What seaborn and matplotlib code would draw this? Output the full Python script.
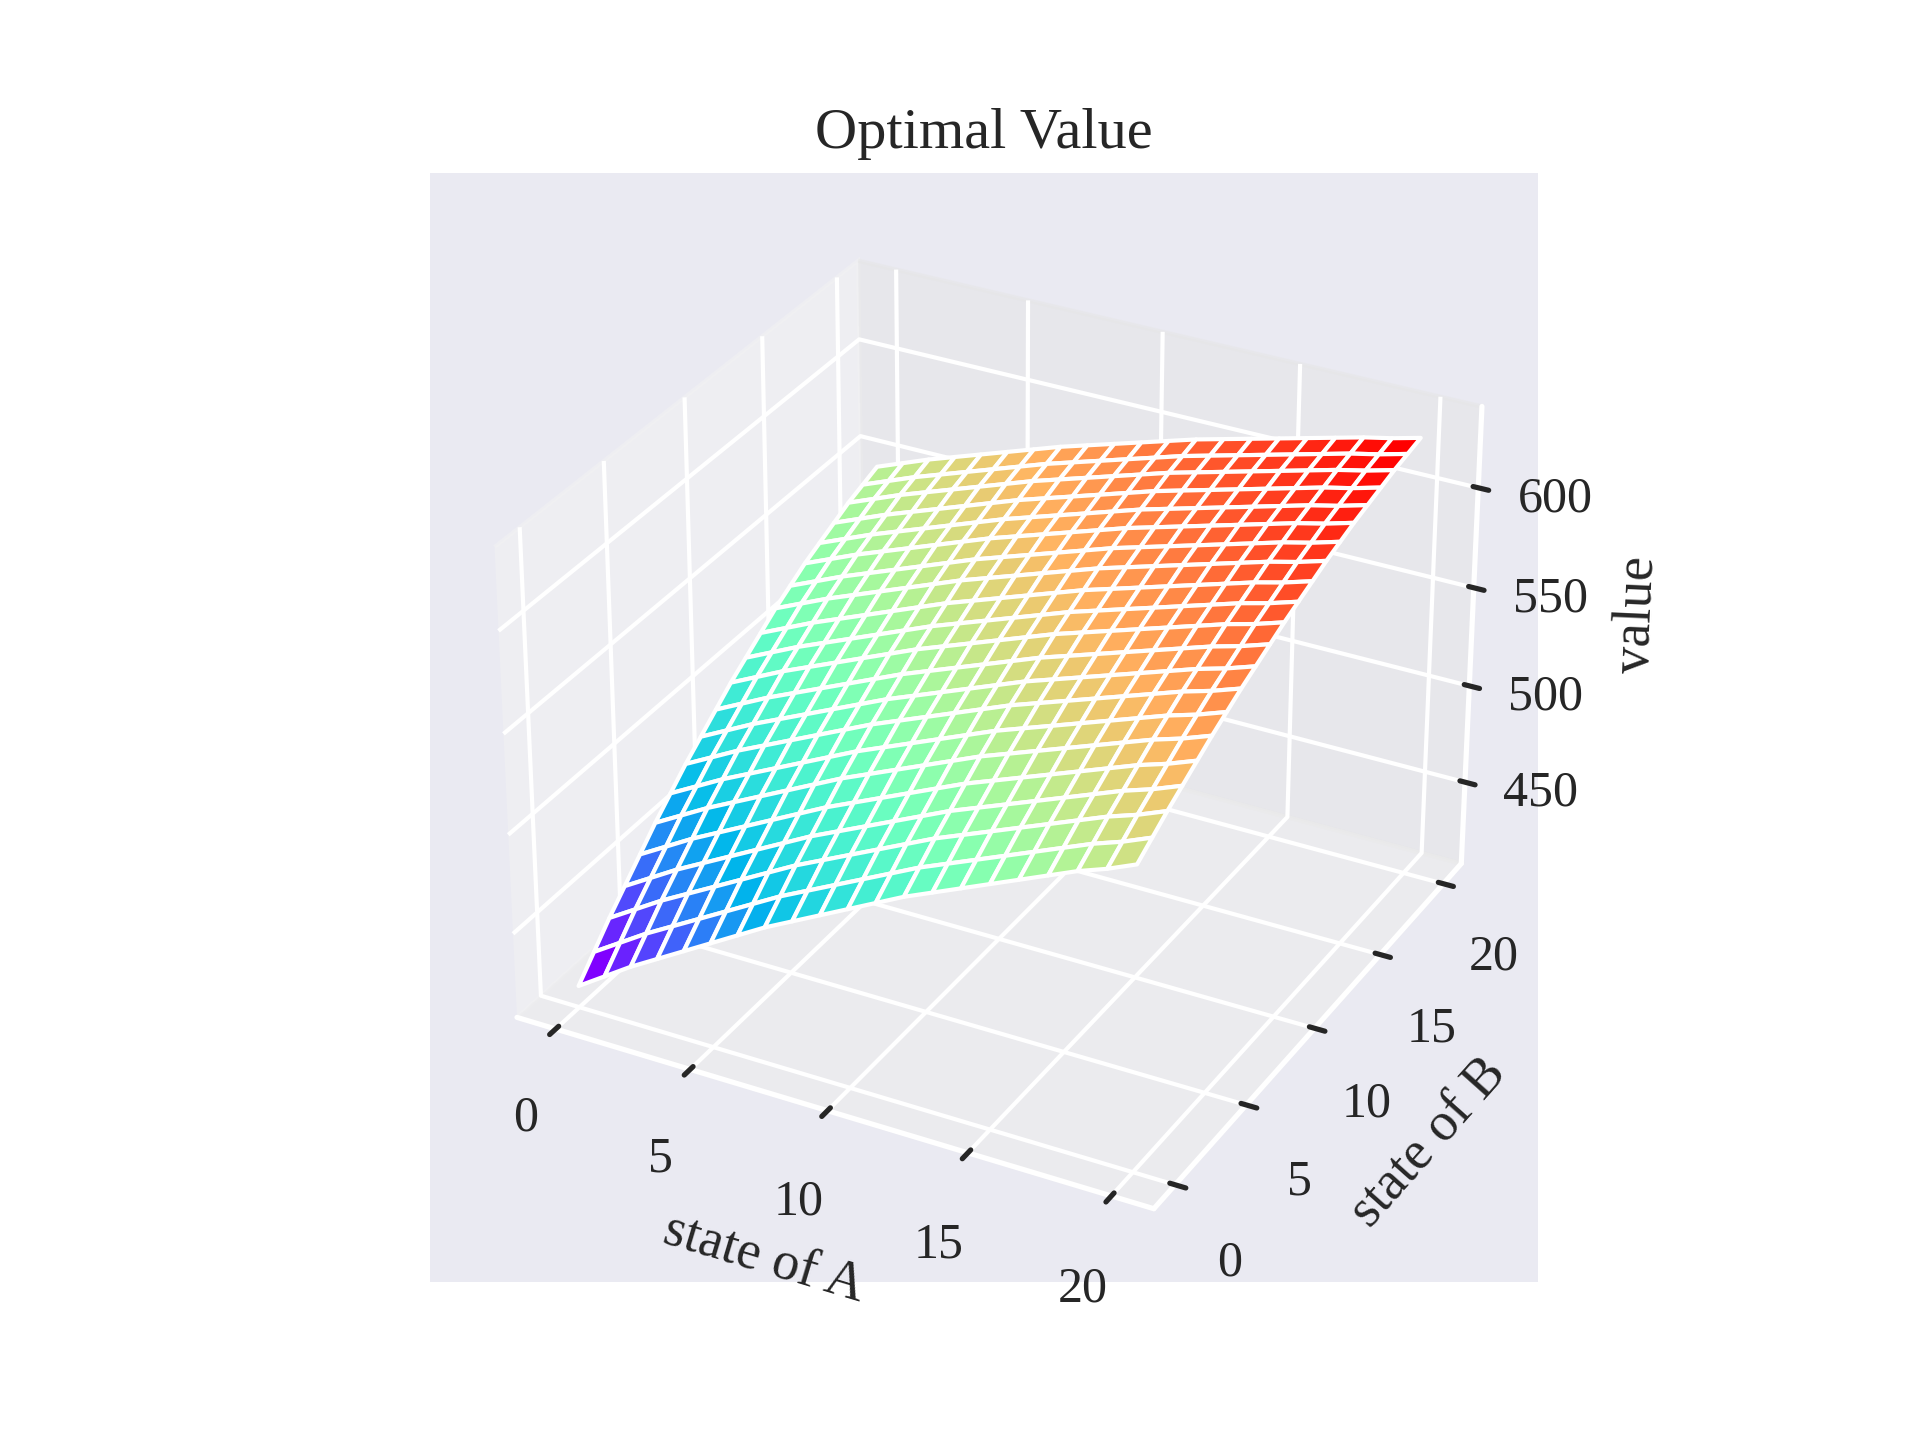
import numpy as np
import matplotlib
matplotlib.use("Agg")
import matplotlib.pyplot as plt
import seaborn as sns

states_a = list(range(21))
states_b = list(range(21))
gain_a = [0, 9, 18, 26, 34, 42, 50, 58, 65, 72, 79, 86, 93, 99, 105, 111, 117, 123, 129, 134, 140]
gain_b = [0, 10, 20, 29, 38, 47, 55, 63, 70, 77, 84, 90, 96, 102, 107, 112, 116, 120, 124, 127, 130]
base_value = 418
saturation = 0.00325

sns.set_theme(style="darkgrid")
plt.rcParams['font.family'] = ['Liberation Serif', 'DejaVu Serif']

A, B = np.meshgrid(states_a, states_b, indexing='ij')
ga = np.array(gain_a)[:, None]
gb = np.array(gain_b)[None, :]
V = base_value + ga + gb - saturation * ga * gb

fig = plt.figure(figsize=(6.4, 4.8), dpi=300)
ax = fig.add_subplot(111, projection='3d')
ax.plot_surface(A, B, V, cmap='rainbow', edgecolor='white', linewidth=1.0, rstride=1, cstride=1)
ax.view_init(elev=30, azim=-62)
ax.set_zlim(407, 640)
ax.set_xticks([0, 5, 10, 15, 20])
ax.set_yticks([0, 5, 10, 15, 20])
ax.set_zticks([450, 500, 550, 600])
ax.set_xlabel('state of A', fontsize=13)
ax.set_ylabel('state of B', fontsize=13)
ax.set_zlabel('value', fontsize=13)
ax.tick_params(labelsize=12)
ax.set_title('Optimal Value', fontsize=14)
fig.savefig('out.png')
